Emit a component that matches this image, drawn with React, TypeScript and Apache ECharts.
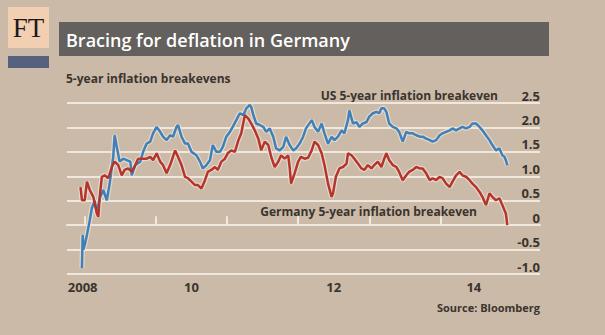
import React, { useEffect, useRef } from "react";
import * as echarts from "echarts";

// Dates as decimal years, values in %
const usDates = [
  2008.96, 2008.97, 2008.98, 2009.0, 2009.03, 2009.07, 2009.1, 2009.14, 2009.17, 2009.21,
  2009.26, 2009.31, 2009.35, 2009.4, 2009.42, 2009.45, 2009.49, 2009.54, 2009.59, 2009.64,
  2009.66, 2009.71, 2009.78, 2009.82, 2009.87, 2009.92, 2009.96, 2010.01, 2010.06, 2010.1,
  2010.15, 2010.2, 2010.24, 2010.29, 2010.31, 2010.36, 2010.41, 2010.45, 2010.5, 2010.57,
  2010.62, 2010.66, 2010.71, 2010.76, 2010.8, 2010.85, 2010.9, 2010.94, 2010.99, 2011.04,
  2011.08, 2011.13, 2011.18, 2011.23, 2011.27, 2011.32, 2011.34, 2011.37, 2011.41, 2011.46,
  2011.51, 2011.55, 2011.6, 2011.65, 2011.69, 2011.74, 2011.79, 2011.83, 2011.88, 2011.93,
  2011.97, 2012.02, 2012.07, 2012.11, 2012.19, 2012.23, 2012.28, 2012.33, 2012.37, 2012.42,
  2012.47, 2012.51, 2012.56, 2012.61, 2012.65, 2012.7, 2012.72, 2012.77, 2012.82, 2012.86,
  2012.91, 2012.96, 2013.0, 2013.05, 2013.1, 2013.14, 2013.17, 2013.21, 2013.24, 2013.28,
  2013.33, 2013.38, 2013.42, 2013.47, 2013.52, 2013.56, 2013.61, 2013.66, 2013.71, 2013.75,
  2013.8, 2013.85, 2013.89, 2013.94, 2013.99, 2014.03, 2014.08, 2014.13, 2014.17, 2014.22,
  2014.27, 2014.31, 2014.36, 2014.41, 2014.45, 2014.5, 2014.55, 2014.59, 2014.64, 2014.69,
  2014.73, 2014.78, 2014.83, 2014.85, 2014.87, 2014.9, 2014.92, 2014.94,
];
const usValues = [
  -0.88, -0.2, -0.5, -0.4, -0.2, 0.1, 0.35, 0.5, 0.25, 0.55,
  0.72, 0.51, 0.85, 1.4, 1.84, 1.6, 1.3, 1.36, 1.33, 1.3,
  1.02, 1.23, 1.3, 1.5, 1.67, 1.71, 1.88, 2.01, 1.91, 1.81,
  1.74, 1.84, 1.81, 2.01, 2.05, 1.81, 1.67, 1.67, 1.5, 1.43,
  1.3, 1.16, 1.23, 1.33, 1.64, 1.5, 1.5, 1.6, 1.81, 1.91,
  2.01, 2.15, 2.29, 2.25, 2.39, 2.46, 2.42, 2.25, 2.08, 2.05,
  2.01, 1.91, 1.98, 1.81, 1.57, 1.53, 1.6, 1.81, 1.64, 1.53,
  1.57, 1.67, 1.81, 1.98, 2.15, 2.01, 1.91, 2.08, 1.88, 1.67,
  1.81, 1.74, 1.81, 1.94, 1.88, 2.15, 2.35, 2.08, 2.11, 2.01,
  2.08, 2.11, 2.22, 2.29, 2.32, 2.29, 2.39, 2.39, 2.32, 2.08,
  2.01, 1.98, 1.91, 1.71, 1.91, 1.88, 1.88, 1.84, 1.81, 1.81,
  1.77, 1.74, 1.71, 1.74, 1.84, 1.88, 1.91, 1.94, 1.98, 1.94,
  1.98, 2.01, 1.98, 2.01, 2.08, 2.08, 2.01, 1.94, 1.84, 1.74,
  1.64, 1.53, 1.57, 1.5, 1.43, 1.4, 1.33, 1.23,
];

const deDates = [
  2008.94, 2008.96, 2009.0, 2009.03, 2009.07, 2009.12, 2009.17, 2009.19, 2009.21, 2009.24,
  2009.28, 2009.33, 2009.38, 2009.42, 2009.47, 2009.52, 2009.56, 2009.61, 2009.66, 2009.71,
  2009.75, 2009.8, 2009.87, 2009.92, 2009.96, 2010.01, 2010.06, 2010.1, 2010.15, 2010.2,
  2010.27, 2010.31, 2010.36, 2010.41, 2010.45, 2010.5, 2010.55, 2010.59, 2010.64, 2010.69,
  2010.73, 2010.78, 2010.83, 2010.87, 2010.92, 2010.97, 2011.01, 2011.06, 2011.11, 2011.16,
  2011.2, 2011.25, 2011.3, 2011.34, 2011.39, 2011.44, 2011.48, 2011.53, 2011.58, 2011.62,
  2011.67, 2011.72, 2011.76, 2011.81, 2011.86, 2011.88, 2011.9, 2011.95, 2012.0, 2012.04,
  2012.09, 2012.14, 2012.19, 2012.23, 2012.28, 2012.33, 2012.37, 2012.42, 2012.47, 2012.49,
  2012.53, 2012.58, 2012.63, 2012.68, 2012.7, 2012.75, 2012.79, 2012.84, 2012.89, 2012.93,
  2012.98, 2013.03, 2013.07, 2013.12, 2013.17, 2013.21, 2013.24, 2013.28, 2013.33, 2013.38,
  2013.42, 2013.47, 2013.52, 2013.56, 2013.61, 2013.66, 2013.71, 2013.75, 2013.8, 2013.85,
  2013.89, 2013.94, 2013.99, 2014.03, 2014.08, 2014.13, 2014.17, 2014.22, 2014.27, 2014.31,
  2014.36, 2014.41, 2014.45, 2014.5, 2014.55, 2014.59, 2014.64, 2014.69, 2014.73, 2014.78,
  2014.83, 2014.87, 2014.92, 2014.94,
];
const deValues = [
  0.78, 0.51, 0.51, 0.89, 0.72, 0.58, 0.24, 0.17, 0.58, 0.99,
  1.02, 0.96, 1.19, 1.3, 1.23, 1.02, 1.13, 1.16, 1.09, 1.23,
  1.36, 1.36, 1.36, 1.4, 1.33, 1.47, 1.3, 1.23, 1.06, 1.23,
  1.53, 1.4, 1.23, 0.99, 0.96, 0.89, 0.82, 0.82, 0.75, 0.92,
  1.09, 1.13, 1.19, 1.13, 1.3, 1.36, 1.47, 1.53, 1.5, 1.74,
  1.88, 2.25, 2.18, 2.08, 1.94, 1.77, 1.53, 1.71, 1.64, 1.4,
  1.19, 1.3, 1.43, 1.36, 1.43, 1.19, 0.85, 1.06, 1.3, 1.4,
  1.36, 1.38, 1.53, 1.71, 1.64, 1.47, 1.23, 0.85, 0.58, 0.65,
  0.99, 1.16, 1.19, 1.26, 1.47, 1.43, 1.36, 1.26, 1.16, 1.13,
  1.23, 1.16, 1.23, 1.3, 1.19, 1.36, 1.47, 1.33, 1.23, 1.19,
  1.09, 0.92, 1.02, 1.09, 1.13, 1.19, 1.16, 1.16, 1.06, 0.92,
  0.96, 0.92, 0.99, 0.96, 0.85, 0.78, 0.89, 1.02, 1.09, 1.02,
  0.99, 0.92, 0.85, 0.78, 0.68, 0.58, 0.41, 0.65, 0.58, 0.51,
  0.55, 0.41, 0.24, 0.0,
];

const yTicks = { min: -1, max: 2.5, interval: 0.5 };
const xTickYears = [2009, 2010, 2011, 2012, 2013, 2014];
const xLabelPositions = [2008.97, 2010.5, 2012.5, 2014.47];
const xLabelTexts = ["2008", "10", "12", "14"];

const FONT = "'Open Sans', 'Noto Sans', sans-serif";
const BG = "#cbbaa7";
const GRID = "#f1e8dd";
const INK = "#3a342f";

export default function App() {
  const ref = useRef<HTMLDivElement>(null);
  useEffect(() => {
    if (!ref.current) return;
    const chart = echarts.init(ref.current, null, { renderer: "svg" });
    const us = usDates.map((d, i) => [d, usValues[i]]);
    const de = deDates.map((d, i) => [d, deValues[i]]);
    const halo = (data: number[][]) => ({
      type: "line",
      data,
      showSymbol: false,
      silent: true,
      lineStyle: { width: 5, color: "rgba(238,228,216,0.7)" },
    });
    chart.setOption({
      animation: false,
      backgroundColor: BG,
      textStyle: { fontFamily: FONT },
      grid: { left: 67, right: 65, top: 103, bottom: 61 },
      xAxis: {
        type: "value",
        min: 2008.75,
        max: 2015.4,
        splitLine: { show: false },
        axisLine: { show: true, lineStyle: { color: GRID, width: 2 } },
        axisTick: {
          show: true,
          inside: true,
          length: 9,
          customValues: xTickYears,
          lineStyle: { color: GRID, width: 2 },
        },
        axisLabel: {
          customValues: xLabelPositions,
          formatter: (v: number) => {
            const i = xLabelPositions.findIndex((p) => Math.abs(p - v) < 1e-6);
            return i >= 0 ? xLabelTexts[i] : "";
          },
          color: INK,
          fontSize: 13,
          fontWeight: "bold",
          fontFamily: FONT,
          margin: 6,
        },
      },
      yAxis: {
        type: "value",
        position: "right",
        min: yTicks.min,
        max: yTicks.max,
        interval: yTicks.interval,
        axisLine: { show: false },
        axisTick: { show: false },
        splitLine: { show: true, lineStyle: { color: GRID, width: 2 } },
        axisLabel: {
          inside: true,
          margin: 0,
          verticalAlign: "bottom",
          padding: [0, 0, 1, 0],
          color: INK,
          fontSize: 13,
          fontWeight: "bold",
          fontFamily: FONT,
          formatter: (v: number) => (v === 0 ? "0" : v.toFixed(1)),
        },
      },
      series: [
        halo(us),
        halo(de),
        {
          type: "line",
          name: "US",
          data: us,
          showSymbol: false,
          lineStyle: { width: 2.5, color: "#3f80b8" },
        },
        {
          type: "line",
          name: "Germany",
          data: de,
          showSymbol: false,
          lineStyle: { width: 2.5, color: "#b5342b" },
        },
      ],
      graphic: [
        { type: "rect", shape: { x: 8, y: 7, width: 41, height: 41 }, style: { fill: "#f2cfb0" } },
        {
          type: "text",
          x: 28.5,
          y: 28,
          style: {
            text: "FT",
            font: "27px 'Liberation Serif', serif",
            fill: "#1d1a18",
            align: "center",
            verticalAlign: "middle",
          },
        },
        { type: "rect", shape: { x: 8, y: 56, width: 41, height: 12 }, style: { fill: "#56617d" } },
        { type: "rect", shape: { x: 59, y: 22, width: 490, height: 34 }, style: { fill: "#64605d" } },
        {
          type: "text",
          x: 66,
          y: 40,
          style: {
            text: "Bracing for deflation in Germany",
            font: `600 18px ${FONT}`,
            fill: "#ffffff",
            verticalAlign: "middle",
          },
        },
        {
          type: "text",
          x: 66,
          y: 78,
          style: {
            text: "5-year inflation breakevens",
            font: `bold 12px ${FONT}`,
            fill: INK,
            verticalAlign: "middle",
          },
        },
        {
          type: "text",
          x: 498,
          y: 95,
          style: {
            text: "US 5-year inflation breakeven",
            font: `bold 12px ${FONT}`,
            fill: INK,
            align: "right",
            verticalAlign: "middle",
          },
        },
        {
          type: "text",
          x: 477,
          y: 211,
          style: {
            text: "Germany 5-year inflation breakeven",
            font: `bold 12px ${FONT}`,
            fill: INK,
            align: "right",
            verticalAlign: "middle",
          },
        },
        {
          type: "text",
          x: 540,
          y: 307,
          style: {
            text: "Source: Bloomberg",
            font: `bold 11px ${FONT}`,
            fill: INK,
            align: "right",
            verticalAlign: "middle",
          },
        },
      ],
    });
    return () => chart.dispose();
  }, []);
  return (
    <div
      ref={ref}
      style={{ position: "fixed", left: 0, top: 0, width: 605, height: 335 }}
    />
  );
}
